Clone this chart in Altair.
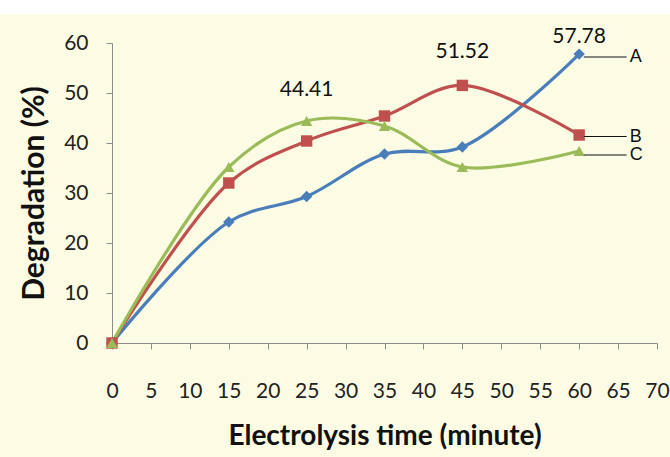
import altair as alt
import pandas as pd

time_min = [0, 15, 25, 35, 45, 60]
series_a = [0, 24.2, 29.3, 37.8, 39.2, 57.78]
series_b = [0, 32.0, 40.4, 45.4, 51.52, 41.6]
series_c = [0, 35.2, 44.41, 43.4, 35.2, 38.4]
series_names = ["A", "B", "C"]
series_colors = ["#4A7EBB", "#C0504D", "#9BBB59"]
series_shapes = ["diamond", "square", "triangle-up"]

ann_x = [25, 45, 60]
ann_y = [44.41, 51.52, 57.78]
ann_text = ["44.41", "51.52", "57.78"]
ann_dy = [-31, -33, -17]

tag_y = [57.2, 41.3, 37.6]
tag_x0 = 60.6
tag_x1 = 66.1
tag_xt = 66.5

x_ticks = list(range(0, 75, 5))
y_ticks = list(range(0, 70, 10))

rows = []
for name, vals in zip(series_names, [series_a, series_b, series_c]):
    for t, v in zip(time_min, vals):
        rows.append({"time": t, "deg": v, "series": name})
df = pd.DataFrame(rows)

tag_df = pd.DataFrame({"x0": [tag_x0] * 3, "x1": [tag_x1] * 3, "xt": [tag_xt] * 3,
                       "y": tag_y, "text": series_names})

FONT = "Lato"

xscale = alt.Scale(domain=[0, 70], nice=False)
yscale = alt.Scale(domain=[0, 60], nice=False)
color = alt.Color("series:N", scale=alt.Scale(domain=series_names, range=series_colors), legend=None)
shape = alt.Shape("series:N", scale=alt.Scale(domain=series_names, range=series_shapes), legend=None)

x_axis = alt.Axis(values=x_ticks, title="Electrolysis time (minute)", grid=False,
                  tickSize=6, labelPadding=31, titlePadding=21,
                  labelFontSize=21, titleFontSize=28, titleFontWeight="bold",
                  labelOverlap=False, labelFlush=False)
y_axis = alt.Axis(values=y_ticks, title="Degradation (%)", grid=False,
                  tickSize=6, labelPadding=18, titlePadding=14,
                  labelFontSize=21, titleFontSize=30, titleFontWeight="bold",
                  labelOverlap=False, labelFlush=False)


def xe(field):
    return alt.X(field, type="quantitative", scale=xscale, axis=x_axis)


def ye(field):
    return alt.Y(field, type="quantitative", scale=yscale, axis=y_axis)


bg_strip = alt.Chart(pd.DataFrame({"a": [0]})).mark_rect(color="white").encode(
    x=alt.value(-112), x2=alt.value(558), y=alt.value(-43), y2=alt.value(-29))

lines = alt.Chart(df).mark_line(interpolate="catmull-rom", strokeWidth=3.2).encode(
    x=xe("time"), y=ye("deg"), color=color, detail="series:N")

points = alt.Chart(df).mark_point(filled=True, opacity=1, size=130).encode(
    x=xe("time"), y=ye("deg"), color=color, shape=shape)

ann_layers = []
for ax, ay, at, ad in zip(ann_x, ann_y, ann_text, ann_dy):
    adf = pd.DataFrame({"time": [ax], "deg": [ay], "text": [at]})
    ann_layers.append(
        alt.Chart(adf).mark_text(fontSize=21, font=FONT, color="#111", baseline="middle", dy=ad)
        .encode(x=xe("time"), y=ye("deg"), text="text:N"))

tag_lines = alt.Chart(tag_df).mark_rule(color="#111", strokeWidth=1).encode(
    x=xe("x0"), x2="x1:Q", y=ye("y"))

tag_text = alt.Chart(tag_df).mark_text(fontSize=18, font="Liberation Sans", color="#111",
                                       align="left", baseline="middle").encode(
    x=xe("xt"), y=ye("y"), text="text:N")

chart = alt.layer(bg_strip, lines, points, *ann_layers, tag_lines, tag_text).properties(
    width=545, height=300,
    padding={"left": 112, "top": 43, "right": 13, "bottom": 114},
    autosize=alt.AutoSizeParams(type="none"),
    background="#FCFCE4",
).configure_view(stroke=None).configure_axis(
    domainColor="#8c8c8c", tickColor="#8c8c8c", labelColor="#222", titleColor="#111",
    labelFont=FONT, titleFont=FONT
)

chart.save("out.html", embed_options={"renderer": "svg", "actions": False})
